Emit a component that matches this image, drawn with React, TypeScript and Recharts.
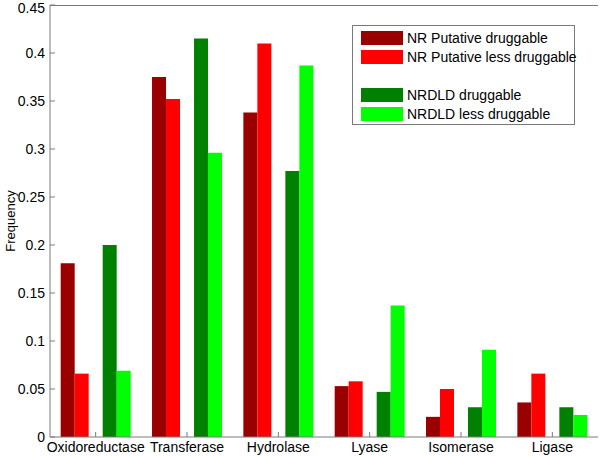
import React from "react";
import { BarChart, Bar, XAxis, YAxis } from "recharts";

const categories = ["Oxidoreductase", "Transferase", "Hydrolase", "Lyase", "Isomerase", "Ligase"];
const nrDruggable = [0.181, 0.375, 0.338, 0.053, 0.021, 0.036];
const nrLessDruggable = [0.066, 0.352, 0.41, 0.058, 0.05, 0.066];
const nrdldDruggable = [0.2, 0.415, 0.277, 0.047, 0.031, 0.031];
const nrdldLessDruggable = [0.069, 0.296, 0.387, 0.137, 0.091, 0.023];
const yTicks = [0, 0.05, 0.1, 0.15, 0.2, 0.25, 0.3, 0.35, 0.4, 0.45];

const legendItems = [
  { name: "NR Putative druggable", color: "#990000" },
  { name: "NR Putative less druggable", color: "#ff0000" },
  null,
  { name: "NRDLD druggable", color: "#008000" },
  { name: "NRDLD less druggable", color: "#00ff00" },
];

const data = categories.map((c, i) => ({
  name: c,
  nrD: nrDruggable[i],
  nrL: nrLessDruggable[i],
  spacer: undefined,
  dlD: nrdldDruggable[i],
  dlL: nrdldLessDruggable[i],
}));

const FONT = "'Liberation Sans', Arial, sans-serif";
const AXIS = "#7a7a7a";

// legend box like MATLAB's, with an empty row between the two groups
const LegendBox = () => (
  <div
    style={{
      position: "absolute",
      left: 352,
      top: 25,
      border: `1px solid ${AXIS}`,
      background: "#fff",
      boxSizing: "border-box",
      width: 223,
      height: 100,
      padding: "2px 0 0 8px",
      fontFamily: FONT,
      fontSize: 14,
      color: "#000",
      whiteSpace: "nowrap",
    }}
  >
    {legendItems.map((it, i) => (
      <div key={i} style={{ height: 19, display: "flex", alignItems: "center" }}>
        {it && (
          <>
            <span style={{ width: 42, height: 14, background: it.color, display: "inline-block", flexShrink: 0 }} />
            <span style={{ marginLeft: 4 }}>{it.name}</span>
          </>
        )}
      </div>
    ))}
  </div>
);

const fmt = (v: number) => String(Number(v.toFixed(2)));

export default function App() {
  return (
    <div style={{ position: "absolute", left: 0, top: 0, width: 600, height: 456, background: "#fff" }}>
      <BarChart
        width={600}
        height={456}
        data={data}
        margin={{ top: 5, right: 2, bottom: 0, left: 0 }}
        barCategoryGap="11.7%"
        barGap={0}
      >
        <XAxis
          dataKey="name"
          height={19}
          stroke={AXIS}
          tickSize={-5}
          tickMargin={10}
          tick={{ fill: "#000", fontSize: 14, fontFamily: FONT }}
          interval={0}
        />
        <YAxis
          width={50}
          domain={[0, 0.45]}
          ticks={yTicks}
          stroke={AXIS}
          tickSize={-5}
          tickMargin={10}
          tickFormatter={fmt}
          tick={{ fill: "#000", fontSize: 14, fontFamily: FONT }}
          label={() => (
            <text
              x={10}
              y={221}
              transform="rotate(-90 10 221)"
              textAnchor="middle"
              dominantBaseline="central"
              fontSize={13}
              fontFamily={FONT}
              fill="#000"
            >
              Frequency
            </text>
          )}
        />
        <YAxis
          yAxisId="right"
          orientation="right"
          width={0}
          domain={[0, 0.45]}
          ticks={yTicks}
          stroke={AXIS}
          tickSize={-5}
          tick={false}
        />
        <Bar dataKey="nrD" name="NR Putative druggable" fill="#990000" isAnimationActive={false} />
        <Bar dataKey="nrL" name="NR Putative less druggable" fill="#ff0000" isAnimationActive={false} />
        <Bar dataKey="spacer" legendType="none" fill="none" isAnimationActive={false} />
        <Bar dataKey="dlD" name="NRDLD druggable" fill="#008000" isAnimationActive={false} />
        <Bar dataKey="dlL" name="NRDLD less druggable" fill="#00ff00" isAnimationActive={false} />
      </BarChart>
      {/* top edge of the axes box */}
      <div style={{ position: "absolute", left: 50, top: 5, width: 548, height: 1, background: AXIS }} />
      <LegendBox />
    </div>
  );
}
